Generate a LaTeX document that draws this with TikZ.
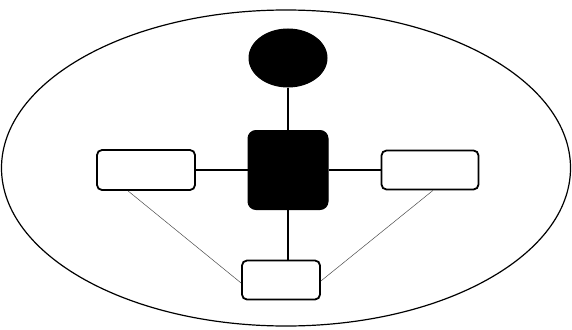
\documentclass[tikz,border=0pt]{standalone}
\usetikzlibrary{shapes.geometric,calc}

\tikzset{
  dark/.style={draw,fill=black,line width=1pt,inner sep=0pt},
  whitebox/.style={draw,fill=white,line width=1.8pt,rounded corners=5pt,inner sep=0pt},
  spoke/.style={line width=1.5pt},
  thinlink/.style={line width=.5pt,draw=black!70}
}

\begin{document}
\begin{tikzpicture}[x=1pt,y=-1pt]
\path[use as bounding box] (0,0) rectangle (572,329);
% outer ring
\node[ellipse,draw,line width=1.2pt,minimum width=569pt,minimum height=316pt,inner sep=0pt] (ring) at (286,168) {};
% dark nodes
\node[dark,ellipse,minimum width=78pt,minimum height=58pt] (top) at (288,58) {};
\node[dark,rounded corners=8pt,minimum width=80pt,minimum height=79pt] (hub) at (288,170) {};
% white boxes
\node[whitebox,minimum width=98pt,minimum height=40pt] (lbox) at (146,170) {};
\node[whitebox,minimum width=97pt,minimum height=39pt] (rbox) at (430,170) {};
\node[whitebox,minimum width=78pt,minimum height=39pt] (bbox) at (281,280) {};
% spokes
\draw[spoke] (top.south) -- (hub.north);
\draw[spoke] (hub.west) -- (lbox.east);
\draw[spoke] (hub.east) -- (rbox.west);
\draw[spoke] (hub.south) -- (hub.south |- bbox.north);
% thin links
\draw[thinlink] ($(lbox.south)+(-18,0)$) -- ($(bbox.west)+(0,3)$);
\draw[thinlink] ($(rbox.south)+(3,0)$) -- ($(bbox.east)+(0,1)$);
\end{tikzpicture}
\end{document}
